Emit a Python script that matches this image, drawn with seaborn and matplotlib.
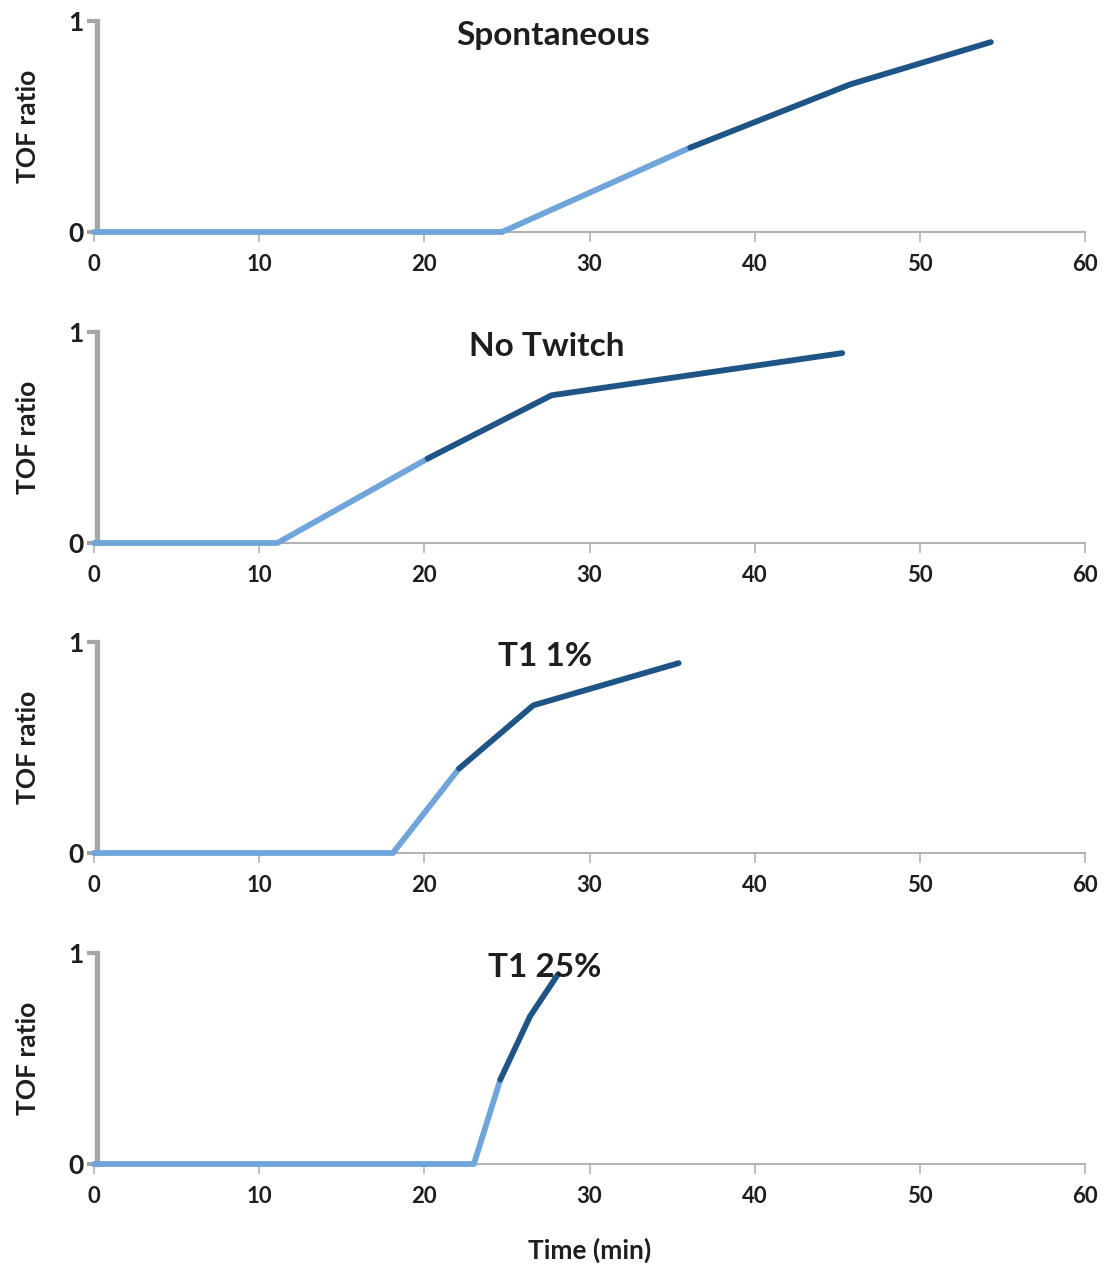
import seaborn as sns
import matplotlib.pyplot as plt
import pandas as pd

# panel titles
titles = ["Spontaneous", "No Twitch", "T1 1%", "T1 25%"]

# recovery curves (time in min, TOF ratio)
spont_t = [0, 24.7, 36.1, 45.8, 54.3]
spont_y = [0, 0, 0.4, 0.7, 0.9]
notw_t = [0, 11.1, 20.2, 27.7, 45.3]
notw_y = [0, 0, 0.4, 0.7, 0.9]
t1_1_t = [0, 18.1, 22.1, 26.6, 35.4]
t1_1_y = [0, 0, 0.4, 0.7, 0.9]
t1_25_t = [0, 23.0, 24.6, 26.4, 28.1]
t1_25_y = [0, 0, 0.4, 0.7, 0.9]

# index of point where the dark segment (TOF >= 0.4) starts
dark_start = 2

x_ticks = [0, 10, 20, 30, 40, 50, 60]
y_ticks = [0, 1]

curves = [(spont_t, spont_y), (notw_t, notw_y), (t1_1_t, t1_1_y), (t1_25_t, t1_25_y)]

rows = []
for title, (t, y) in zip(titles, curves):
    for i in range(0, dark_start + 1):
        rows.append({'panel': title, 'phase': 'light', 'time': t[i], 'tof': y[i]})
    for i in range(dark_start, len(t)):
        rows.append({'panel': title, 'phase': 'dark', 'time': t[i], 'tof': y[i]})
df = pd.DataFrame(rows)

sns.set_style("white")
plt.rcParams['font.family'] = ['Lato', 'DejaVu Sans']
plt.rcParams['font.weight'] = 'bold'

fig = plt.figure(figsize=(11.04, 12.65), dpi=100)
palette = {'light': '#6fa5da', 'dark': '#1f5487'}
text_col = '#1e1e1e'

# axes placement in pixels (y of zero line) for each panel
zero_px = [232, 543, 853, 1164]
title_x = [27.8, 27.4, 27.3, 27.3]
left = 94 / 1104
width = (1085 - 94) / 1104
height = 211 / 1265

for k, title in enumerate(titles):
    ax = fig.add_axes([left, 1 - zero_px[k] / 1265, width, height])
    sub = df[df['panel'] == title]
    sns.lineplot(data=sub, x='time', y='tof', hue='phase', palette=palette,
                 estimator=None, sort=False, legend=False, linewidth=4.2,
                 ax=ax, clip_on=False, zorder=3)
    sns.despine(ax=ax)
    # spine position first: it resets the tick settings
    ax.spines['left'].set_position(('data', 0.2))
    ax.spines['left'].set_bounds(0, 1)
    ax.spines['left'].set_linewidth(3.8)
    ax.spines['left'].set_color('#a6a6a6')
    ax.spines['bottom'].set_linewidth(1.5)
    ax.spines['bottom'].set_color('#b3b3b3')
    ax.set_xlim(0, 60)
    ax.set_ylim(0, 1)
    ax.set_xticks(x_ticks)
    ax.set_yticks(y_ticks)
    ax.set_xticklabels([str(v) for v in x_ticks], fontsize=16, fontweight='bold', color=text_col)
    ax.set_yticklabels([str(v) for v in y_ticks], fontsize=19, fontweight='bold', color=text_col)
    ax.tick_params(axis='x', bottom=True, direction='out', length=7, width=1.2, color='#b3b3b3', pad=9)
    ax.tick_params(axis='y', left=True, direction='out', length=7, width=3, color='#a6a6a6', pad=3)
    ax.set_xlabel('')
    ax.set_ylabel('TOF ratio', fontsize=19, fontweight='bold', color=text_col, labelpad=20)
    ax.text(title_x[k], 0.93, title, ha='center', va='center', fontsize=24, fontweight='bold', color=text_col)
    ax.patch.set_alpha(0)

fig.text(590 / 1104, 1 - 1250 / 1265, 'Time (min)', ha='center', va='center',
         fontsize=19, fontweight='bold', color=text_col)

fig.savefig('out.png', dpi=100, facecolor='white')
